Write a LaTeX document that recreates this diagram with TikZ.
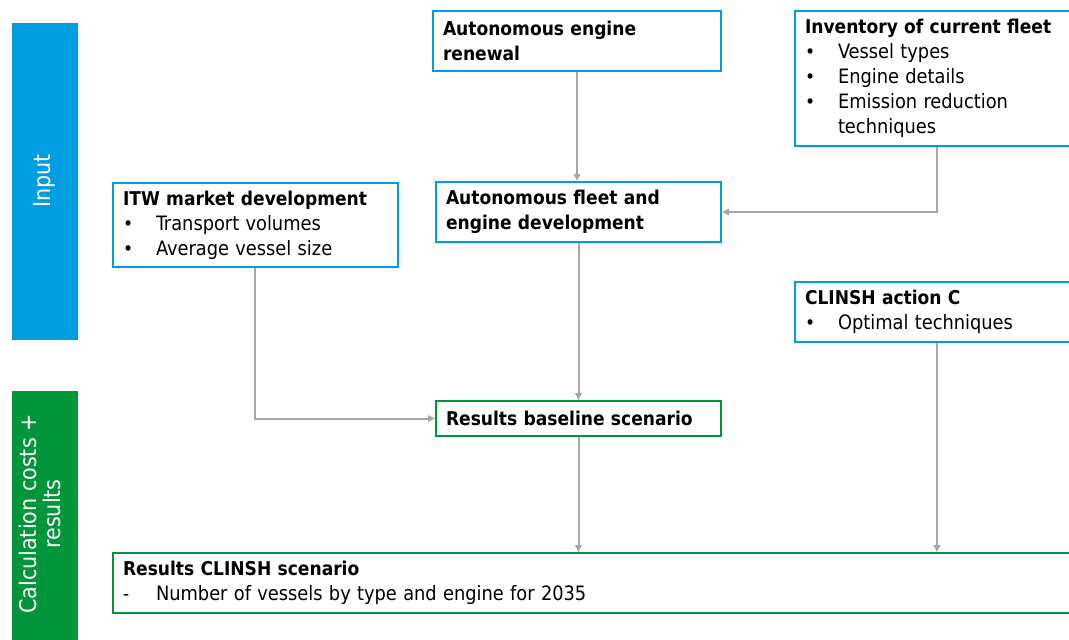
\documentclass[tikz,border=0pt]{standalone}
\usepackage{fontspec}
\setmainfont{DejaVu Sans Condensed}
\usetikzlibrary{arrows.meta}
\definecolor{inblue}{RGB}{0,158,224}
\definecolor{ingreen}{RGB}{0,150,57}
\definecolor{arrgray}{RGB}{166,166,166}
\newcommand{\regf}{\fontsize{19.8}{25}\selectfont}
\newcommand{\bul}[1]{\makebox[33pt][l]{•}{\regf #1}}
\newcommand{\hang}[1]{\hspace*{33pt}{\regf #1}}
\begin{document}
\begin{tikzpicture}[x=1pt,y=-1pt,
  box/.style={draw=#1, line width=2pt, rectangle, anchor=north west, align=left,
    inner xsep=10pt, inner ysep=0pt, font=\fontsize{19}{25}\selectfont},
  bar/.style={fill=#1, draw=none, anchor=north west, inner sep=0pt},
  bartext/.style={rotate=90, text=white, align=center, font=\fontsize{23}{24}\selectfont},
  arr/.style={draw=arrgray, line width=2pt, -{Triangle[length=7pt,width=6.5pt]}}
]
\useasboundingbox (0,0) rectangle (1069,640);
\clip (0,0) rectangle (1069,640);
\fill[white] (0,0) rectangle (1069,640);

% side bars
\node[bar=inblue, minimum width=66pt, minimum height=317pt] (inbar) at (12,23) {};
\node[bartext] (intext) at (45,181) {Input};
\node[bar=ingreen, minimum width=66pt, minimum height=260pt] (calcbar) at (12,391) {};
\node[bartext] (calctext) at (40,514) {Calculation costs +\\results};

% boxes
\node[box=inblue, text width=268pt, minimum height=60pt] (renew) at (432,10)
  {\textbf{Autonomous engine}\\\textbf{renewal}};
\node[box=inblue, text width=300pt, minimum height=135pt] (inv) at (794,10)
  {\textbf{Inventory of current fleet}\\\bul{Vessel types}\\\bul{Engine details}\\\bul{Emission reduction}\\\hang{techniques}};
\node[box=inblue, text width=265pt, minimum height=84pt] (itw) at (112,182)
  {\textbf{ITW market development}\\\bul{Transport volumes}\\\bul{Average vessel size}};
\node[box=inblue, text width=265pt, minimum height=60pt] (fleet) at (435,181)
  {\textbf{Autonomous fleet and}\\\textbf{engine development}};
\node[box=inblue, text width=300pt, minimum height=60pt] (act) at (794,281)
  {\textbf{CLINSH action C}\\\bul{Optimal techniques}};
\node[box=ingreen, text width=265pt, minimum height=35pt] (base) at (435,400)
  {\textbf{Results baseline scenario}};
\node[box=ingreen, text width=980pt, minimum height=60pt] (scen) at (112,552)
  {\textbf{Results CLINSH scenario}\\\makebox[33pt][l]{-}{\regf Number of vessels by type and engine for 2035}};

% connectors
\draw[arr] (renew.south) -- (renew.south |- fleet.north);
\draw[arr] ([xshift=143pt]inv.south west) |- (fleet.east);
\draw[arr] (fleet.south) -- (fleet.south |- base.north);
\draw[arr] ([xshift=143pt]itw.south west) |- (base.west);
\draw[arr] (base.south) -- (base.south |- scen.north);
\draw[arr] ([xshift=143pt]act.south west) -- ([xshift=143pt]act.south west |- scen.north);
\end{tikzpicture}
\end{document}
